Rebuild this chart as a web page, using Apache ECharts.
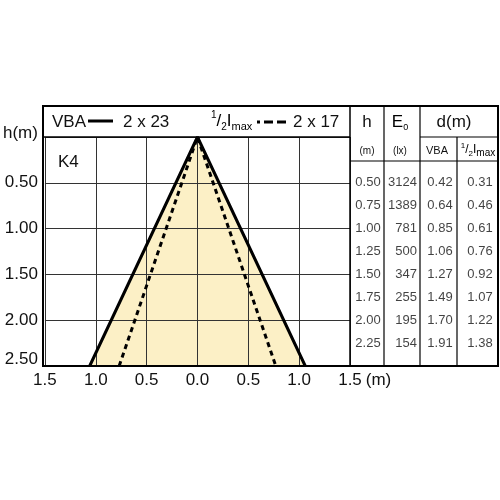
<!DOCTYPE html>
<html>
<head>
<meta charset="utf-8">
<script src="https://cdn.jsdelivr.net/npm/echarts@6/dist/echarts.min.js"></script>
<style>html,body{margin:0;padding:0;background:#fff}#c{width:500px;height:500px}</style>
</head>
<body>
<div id="c"></div>
<script>
// ---- data ----
const heights = [0.50, 0.75, 1.00, 1.25, 1.50, 1.75, 2.00, 2.25];
const e0      = [3124, 1389, 781, 500, 347, 255, 195, 154];
const dVBA    = [0.42, 0.64, 0.85, 1.06, 1.27, 1.49, 1.70, 1.91];
const dHalf   = [0.31, 0.46, 0.61, 0.76, 0.92, 1.07, 1.22, 1.38];
const coneVBA  = [[-1.06, 2.5], [0, 0], [1.06, 2.5]];
const coneHalf = [[-0.77, 2.5], [0, 0], [0.77, 2.5]];
const legendVBA = ['VBA', '2 x 23'];
const legendHalf = ['2 x 17'];

const FONT = 'Liberation Sans, Arial, sans-serif';
const INK = '#111';
const chart = echarts.init(document.getElementById('c'), null, {renderer: 'canvas'});

function tableSeries(colX, values, fmt, pos) {
  return {
    type: 'scatter', xAxisIndex: 1, yAxisIndex: 1,
    symbolSize: 0, itemStyle: {color: 'transparent'},
    silent: true,
    data: heights.map((h, i) => [colX, h, values[i]]),
    label: {
      show: true, position: pos, distance: 0,
      fontSize: 13, fontFamily: FONT, color: INK,
      formatter: p => fmt(p.value[2])
    }
  };
}

const halfRich = {
  n: {fontSize: 17, fontFamily: FONT, color: INK, lineHeight: 22, verticalAlign: 'middle'},
  s: {fontSize: 10, fontFamily: FONT, color: INK, lineHeight: 22, verticalAlign: 'top'},
  b: {fontSize: 10, fontFamily: FONT, color: INK, lineHeight: 22, verticalAlign: 'bottom'},
  m: {fontSize: 11, fontFamily: FONT, color: INK, lineHeight: 22, verticalAlign: 'bottom'}
};
const halfRichSmall = {
  n: {fontSize: 12, fontFamily: FONT, color: INK, lineHeight: 16, verticalAlign: 'middle'},
  s: {fontSize: 8, fontFamily: FONT, color: INK, lineHeight: 16, verticalAlign: 'top'},
  b: {fontSize: 8, fontFamily: FONT, color: INK, lineHeight: 16, verticalAlign: 'bottom'},
  m: {fontSize: 10, fontFamily: FONT, color: INK, lineHeight: 16, verticalAlign: 'bottom'}
};

function line(x1, y1, x2, y2, w, dash, dashOffset) {
  return {type: 'line', z: 20, silent: true,
    shape: {x1, y1, x2, y2},
    style: {stroke: '#000', lineWidth: w, lineDash: dash || null, lineDashOffset: dashOffset || 0}};
}
function text(x, y, t, size, align, extra) {
  return Object.assign({type: 'text', z: 20, silent: true, x, y,
    style: {text: t, fontSize: size, fontFamily: FONT, fill: INK, align: align || 'left', verticalAlign: 'middle'}}, extra || {});
}

const option = {
  animation: false,
  backgroundColor: '#fff',
  grid: [
    {left: 43, top: 137, width: 307, height: 229},
    {left: 350, top: 137, width: 148, height: 229}
  ],
  xAxis: [
    {gridIndex: 0, type: 'value', position: 'bottom', min: -1.5, max: 1.5, interval: 0.5,
     axisLine: {show: false, onZero: false}, axisTick: {show: false},
     splitLine: {show: true, lineStyle: {color: '#333', width: 1}},
     axisLabel: {fontSize: 17, fontFamily: FONT, color: INK, margin: 6,
       formatter: v => Math.abs(v).toFixed(1)},
     name: '(m)', nameLocation: 'end', nameGap: 14,
     nameTextStyle: {fontSize: 17, fontFamily: FONT, color: INK, verticalAlign: 'top', padding: [6, 0, 0, 0]}
    },
    {gridIndex: 1, type: 'value', min: 0, max: 148, show: false}
  ],
  yAxis: [
    {gridIndex: 0, type: 'value', inverse: true, min: 0, max: 2.5, interval: 0.5,
     axisLine: {show: false, onZero: false}, axisTick: {show: false},
     splitLine: {show: true, lineStyle: {color: '#333', width: 1}},
     axisLabel: {fontSize: 17, fontFamily: FONT, color: INK, margin: 7,
       formatter: v => {
         if (v === 0) return '{a|h(m)}';
         if (v === 2.5) return '{b|' + v.toFixed(2) + '}';
         return v.toFixed(2);
       },
       rich: {
         a: {fontSize: 17, fontFamily: FONT, color: INK, padding: [0, 0, 8, 0]},
         b: {fontSize: 17, fontFamily: FONT, color: INK, padding: [0, 0, 14, 0]}
       }}
    },
    {gridIndex: 1, type: 'value', inverse: true, min: 0, max: 2.5, show: false}
  ],
  series: [
    {type: 'line', name: 'fill', z: -1, data: coneVBA, symbol: 'none', silent: true,
     lineStyle: {width: 0}, areaStyle: {color: '#FCF0C6', opacity: 1, origin: 'end'}},
    {type: 'line', name: 'VBA', data: coneVBA, symbol: 'none', silent: true,
     lineStyle: {color: '#000', width: 3}},
    {type: 'line', name: 'half', data: coneHalf, symbol: 'none', silent: true,
     lineStyle: {color: '#000', width: 3, type: [5, 4]}},
    tableSeries(18, heights, v => v.toFixed(2), 'inside'),
    tableSeries(67, e0, v => String(v), 'left'),
    tableSeries(90, dVBA, v => v.toFixed(2), 'inside'),
    tableSeries(130, dHalf, v => v.toFixed(2), 'inside')
  ],
  graphic: {elements: [
    {type: 'rect', z: 20, silent: true, shape: {x: 43, y: 106, width: 455, height: 260},
     style: {fill: null, stroke: '#000', lineWidth: 2}},
    line(43, 137, 350, 137, 1.5),
    line(420, 137, 498, 137, 1.2),
    line(350, 161, 498, 161, 1.2),
    line(350, 106, 350, 366, 1.5),
    line(384, 106, 384, 366, 1.2),
    line(420, 106, 420, 366, 1.2),
    line(457, 137, 457, 366, 1.2),
    // legend header
    text(52, 122, legendVBA[0], 17),
    line(88, 121, 113, 121, 3),
    text(123, 122, legendVBA[1], 17),
    {type: 'text', z: 20, silent: true, x: 211, y: 121,
     style: {text: '{s|1}{n|/}{b|2}{n|I}{m|max}', rich: halfRich, align: 'left', verticalAlign: 'middle'}},
    line(257, 122, 288, 122, 3, [9, 4], 6),
    text(293, 122, legendHalf[0], 17),
    text(58, 162, 'K4', 17),
    // table header
    text(367, 122, 'h', 17, 'center'),
    {type: 'text', z: 20, silent: true, x: 400, y: 122,
     style: {text: '{n|E}{b|0}', align: 'center', verticalAlign: 'middle', rich: {
       n: {fontSize: 17, fontFamily: FONT, color: INK, lineHeight: 20, verticalAlign: 'middle'},
       b: {fontSize: 9, fontFamily: FONT, color: INK, lineHeight: 20, verticalAlign: 'bottom'}}}},
    text(454, 122, 'd(m)', 17, 'center'),
    text(367, 151, '(m)', 10, 'center'),
    text(400, 151, '(lx)', 10, 'center'),
    text(437, 151, 'VBA', 11, 'center'),
    {type: 'text', z: 20, silent: true, x: 478, y: 150,
     style: {text: '{s|1}{n|/}{b|2}{n|I}{m|max}', rich: halfRichSmall, align: 'center', verticalAlign: 'middle'}}
  ]}
};
chart.setOption(option);
</script>
</body>
</html>
